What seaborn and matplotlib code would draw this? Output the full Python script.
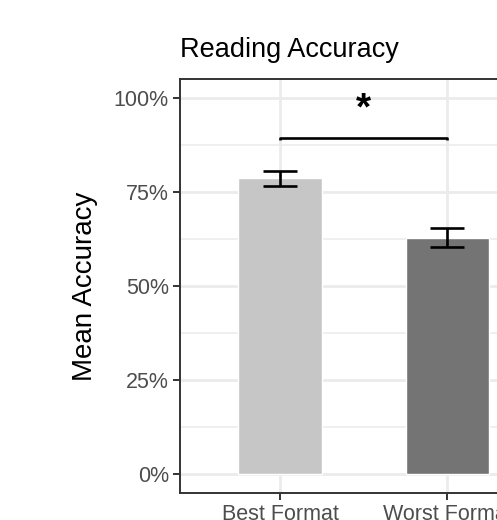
import numpy as np
import pandas as pd
import matplotlib
matplotlib.use('Agg')
import matplotlib.pyplot as plt
import seaborn as sns
from matplotlib.ticker import FixedLocator, PercentFormatter

# data
formats = ['Best Format', 'Worst Format']
mean_acc = [0.786, 0.628]
se_acc = [0.020, 0.025]
bar_colors = ['#C6C6C6', '#747474']
bracket_y = 0.893
sig_label = '*'

df = pd.DataFrame({'format': formats, 'acc': mean_acc, 'se': se_acc})

sns.set_theme(style='white')
plt.rcParams['font.family'] = ['Liberation Sans', 'DejaVu Sans']

fig = plt.figure(figsize=(4.97, 5.2), dpi=100)
ax = fig.add_axes([180 / 497, 27 / 520, 367.7 / 497, 414 / 520])

sns.barplot(ax=ax, data=df, x='format', y='acc', hue='format',
            palette=bar_colors, width=0.5, errorbar=None, legend=False,
            zorder=2)
ax.errorbar(x=np.arange(len(formats)), y=df['acc'], yerr=df['se'],
            fmt='none', ecolor='black', elinewidth=1.9, capsize=12,
            capthick=1.9, zorder=3)

# significance bracket
ax.plot([0, 0, 1, 1], [bracket_y - 0.006, bracket_y, bracket_y, bracket_y - 0.006],
        color='black', lw=1.9, solid_capstyle='butt', zorder=3)
ax.text(0.5, bracket_y + 0.028, sig_label, ha='center', va='bottom',
        fontsize=28, fontweight='bold', color='black', zorder=3)

ax.set_xlim(-0.6, 1.6)
ax.set_ylim(-0.05, 1.05)
ax.yaxis.set_major_locator(FixedLocator([0, 0.25, 0.5, 0.75, 1.0]))
ax.yaxis.set_minor_locator(FixedLocator([0.125, 0.375, 0.625, 0.875]))
ax.yaxis.set_major_formatter(PercentFormatter(1.0, decimals=0))

ax.set_axisbelow(True)
ax.grid(which='major', color='#EBEBEB', lw=2.0)
ax.grid(which='minor', axis='y', color='#EBEBEB', lw=1.1)
for s in ax.spines.values():
    s.set_visible(True)
    s.set_color('#333333')
    s.set_linewidth(1.4)

ax.tick_params(axis='both', which='major', length=5, width=1.4, color='#333333',
               labelsize=15.5, labelcolor='#4D4D4D', pad=3, left=True, bottom=True)
ax.tick_params(axis='y', which='minor', length=0)

ax.set_xlabel('')
ax.set_ylabel('Mean Accuracy', fontsize=20, color='black', labelpad=11)
ax.set_title('Reading Accuracy', loc='left', fontsize=19.5, color='black', pad=16)

fig.savefig('out.png', dpi=100)
